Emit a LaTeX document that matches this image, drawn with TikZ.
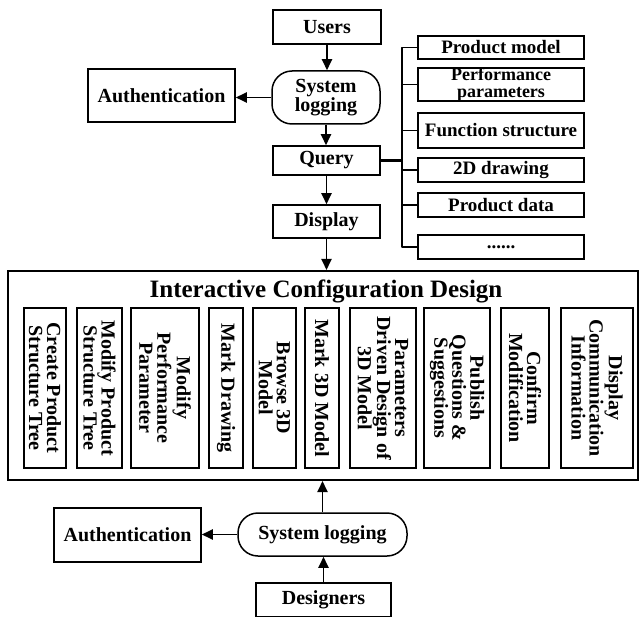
\documentclass[tikz,border=0pt]{standalone}
\usepackage{fontspec}
\setmainfont{Liberation Serif}
\usetikzlibrary{arrows.meta}
\begin{document}
\begin{tikzpicture}[x=1pt,y=-1pt,
  box/.style={draw, line width=1.5pt, inner sep=1pt, align=center, font=\fontsize{20}{18}\selectfont\bfseries},
  rbox/.style={box, minimum width=166pt, font=\fontsize{19}{16}\selectfont\bfseries},
  pill/.style={box, rounded corners=20pt},
  vbox/.style={box, rotate=-90, minimum width=160pt, inner sep=0pt, font=\fontsize{20}{18}\selectfont\bfseries},
  conn/.style={line width=1.8pt},
  arr/.style={conn, -{Triangle[length=11pt,width=10pt]}},
]
\useasboundingbox (0,0) rectangle (639,617);

% top chain
\node[box, minimum width=108pt, minimum height=34pt] (users) at (327,27) {Users};
\node[pill, minimum width=108pt, minimum height=53pt] (slog1) at (326,97.5) {System\\logging};
\node[box, minimum width=147pt, minimum height=53pt] (auth1) at (161.5,95.5) {Authentication};
\node[box, minimum width=107pt, minimum height=29pt] (query) at (326.5,160.5) {Query};
\node[box, minimum width=107pt, minimum height=33pt] (display) at (326.5,221.5) {Display};

% right list
\node[rbox, minimum height=23pt] (pm) at (501,47.5) {Product model};
\node[rbox, minimum height=33pt, inner sep=0pt, font=\fontsize{18}{16.5}\selectfont\bfseries] (pp) at (501,84.5) {Performance\\parameters};
\node[rbox, minimum height=35pt] (fs) at (501,130.5) {Function structure};
\node[rbox, minimum height=24pt] (dd) at (501,170) {2D drawing};
\node[rbox, minimum height=24pt] (pd) at (501,205) {Product data};
\node[rbox, minimum height=24pt] (etc) at (501,247) {......};
\coordinate (bus) at (402,150);

\draw[conn, line join=round] (pm.west) -- (pm.west -| bus) -- (etc.west -| bus) -- (etc.west);
\foreach \n in {pp,fs,dd,pd} \draw[conn] (\n.west) -- (\n.west -| bus);
\draw[line width=2.6pt] (query.east) -- (query.east -| bus);

% big frame
\node[draw, line width=2pt, minimum width=630pt, minimum height=209pt, inner sep=0pt] (icd) at (323,375.5) {};
\node[font=\fontsize{25}{25}\selectfont\bfseries, anchor=base, inner sep=0pt] (title) at (326,298) {Interactive Configuration Design};

\node[vbox, minimum height=42pt] (v1) at (45,388) {Create Product\\Structure Tree};
\node[vbox, minimum height=45pt] (v2) at (99.5,388) {Modify Product\\Structure Tree};
\node[vbox, minimum height=68pt] (v3) at (165,388) {Modify\\Performance\\Parameter};
\node[vbox, minimum height=34pt] (v4) at (226,388) {Mark Drawing};
\node[vbox, minimum height=43pt] (v5) at (274.5,388) {Browse 3D\\Model};
\node[vbox, minimum height=34pt] (v6) at (322,388) {Mark 3D Model};
\node[vbox, minimum height=66pt] (v7) at (383,388) {Parameters\\Driven Design of\\3D Model};
\node[vbox, minimum height=66pt] (v8) at (457,388) {Publish\\Questions \&\\Suggestions};
\node[vbox, minimum height=48pt] (v9) at (525,388) {Confirm\\Modification};
\node[vbox, minimum height=72pt] (v10) at (597,388) {Display\\Communication\\Information};

% bottom chain
\node[pill, minimum width=169pt, minimum height=43pt] (slog2) at (322.5,534.5) {System logging};
\node[box, minimum width=147pt, minimum height=54pt] (auth2) at (127.5,535) {Authentication};
\node[box, minimum width=135pt, minimum height=34pt] (des) at (323.5,600) {Designers};

% arrows
\draw[arr] (users.south) -- (users.south |- slog1.north);
\draw[arr] (slog1.west) -- (slog1.west -| auth1.east);
\draw[arr] (slog1.south) -- (slog1.south |- query.north);
\draw[arr] (query.south) -- (query.south |- display.north);
\draw[arr] (display.south) -- (display.south |- icd.north);
\draw[arr] (slog2.north) -- (slog2.north |- icd.south);
\draw[arr] (slog2.west) -- (slog2.west -| auth2.east);
\draw[arr] (des.north) -- (des.north |- slog2.south);
\end{tikzpicture}
\end{document}
